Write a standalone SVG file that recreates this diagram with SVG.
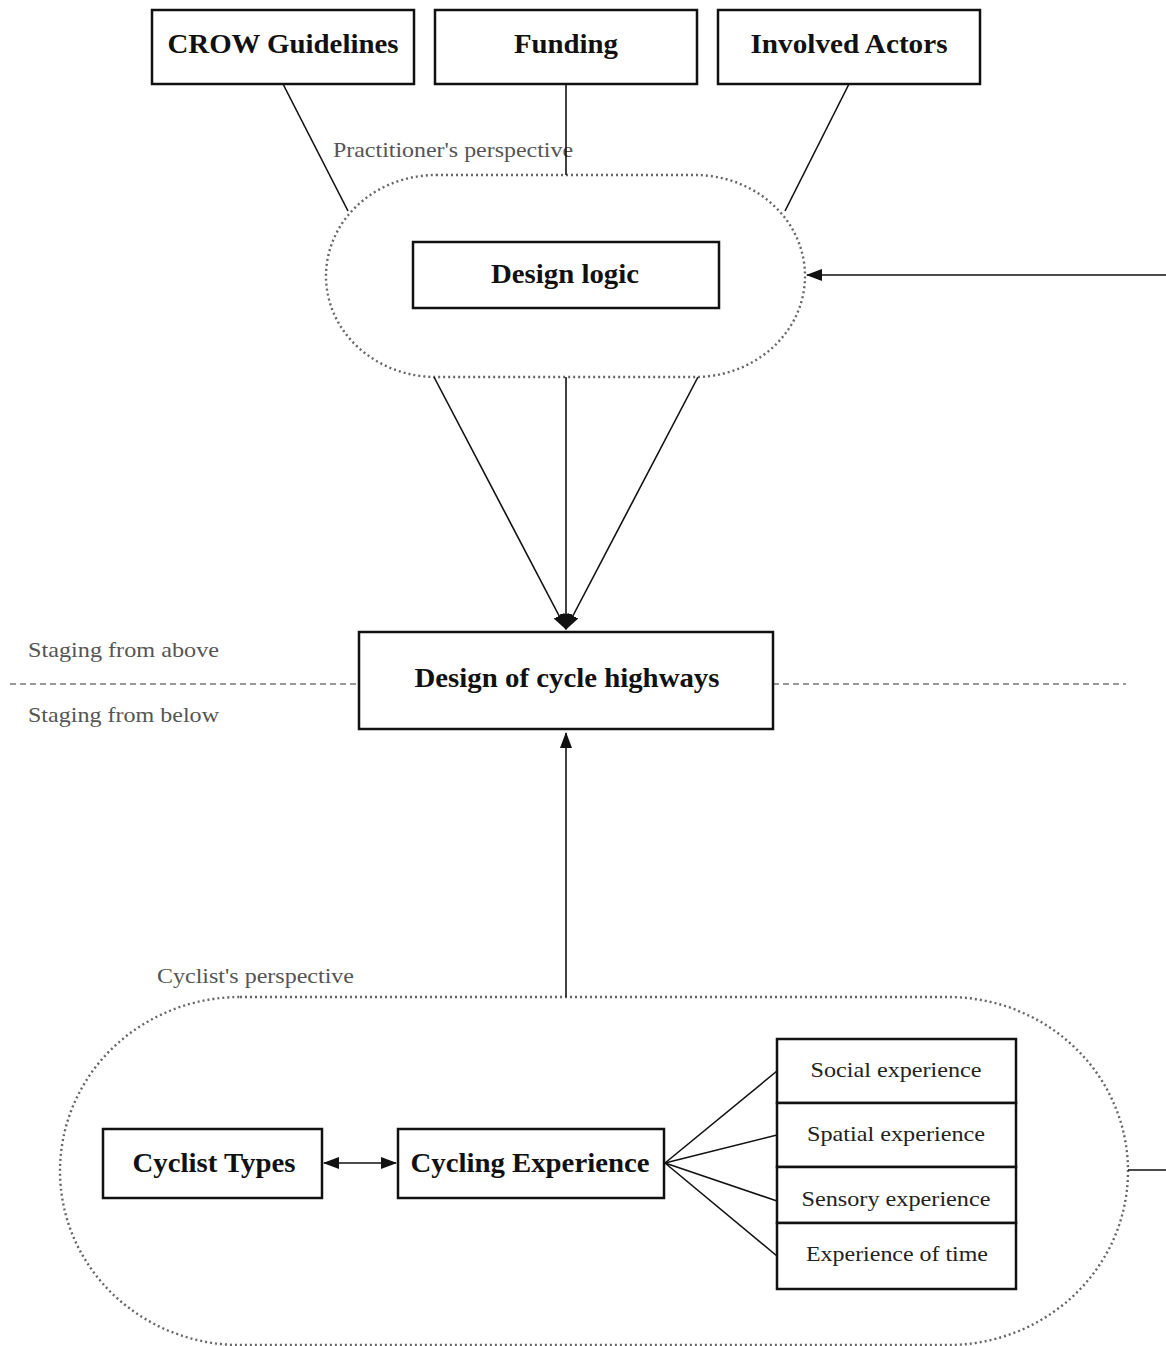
<svg xmlns="http://www.w3.org/2000/svg" width="1166" height="1346" viewBox="0 0 1166 1346">
<style>
.box{fill:#fff;stroke:#111;stroke-width:2.5}
.cell{fill:#fff;stroke:#111;stroke-width:2.5}
.t{font-family:"Liberation Serif","Times New Roman",serif;font-weight:bold;fill:#111;text-anchor:middle;font-size:27px}
.s{font-family:"Liberation Serif","Times New Roman",serif;fill:#222;text-anchor:middle;font-size:21px}
.lbl{font-family:"Liberation Serif","Times New Roman",serif;fill:#555;font-size:21px}
.con{fill:none;stroke:#111;stroke-width:1.6}
.dot{fill:none;stroke:#666;stroke-width:2.4;stroke-dasharray:2 3}
.dash{fill:none;stroke:#777;stroke-width:1.5;stroke-dasharray:6 4}
</style>
<defs>
<marker id="ah" markerWidth="16" markerHeight="12" refX="15" refY="6" orient="auto" markerUnits="userSpaceOnUse">
<path d="M0,0 L16,6 L0,12 Z" fill="#111"/>
</marker>
<marker id="ahs" markerWidth="16" markerHeight="12" refX="1" refY="6" orient="auto" markerUnits="userSpaceOnUse">
<path d="M16,0 L0,6 L16,12 Z" fill="#111"/>
</marker>
</defs>
<rect width="1166" height="1346" fill="#fff"/>

<g id="groups">
<rect id="practitioner-group" class="dot" x="326" y="175" width="479" height="202" rx="110" ry="101"/>
<rect id="cyclist-group" class="dot" x="60" y="997" width="1068" height="348" rx="180" ry="174"/>
<line class="dash" x1="10" y1="684" x2="359" y2="684"/>
<line class="dash" x1="773" y1="684" x2="1126" y2="684"/>
</g>

<g id="labels">
<text class="lbl" x="333" y="157" textLength="240" lengthAdjust="spacingAndGlyphs">Practitioner's perspective</text>
<text class="lbl" x="28" y="657" textLength="191" lengthAdjust="spacingAndGlyphs">Staging from above</text>
<text class="lbl" x="28" y="722" textLength="191" lengthAdjust="spacingAndGlyphs">Staging from below</text>
<text class="lbl" x="157" y="983" textLength="197" lengthAdjust="spacingAndGlyphs">Cyclist's perspective</text>
</g>

<g id="connectors">
<line class="con" x1="283" y1="84" x2="348" y2="211"/>
<line class="con" x1="566" y1="84" x2="566" y2="175"/>
<line class="con" x1="849" y1="84" x2="785" y2="211"/>
<line class="con" x1="434" y1="377" x2="566" y2="629" marker-end="url(#ah)"/>
<line class="con" x1="566" y1="377" x2="566" y2="629" marker-end="url(#ah)"/>
<line class="con" x1="698" y1="377" x2="566" y2="629" marker-end="url(#ah)"/>
<line class="con" x1="566" y1="997" x2="566" y2="733" marker-end="url(#ah)"/>
<path class="con" d="M1128,1170 H1167 V275 H807" marker-end="url(#ah)"/>
<line class="con" x1="324" y1="1163" x2="396" y2="1163" marker-start="url(#ahs)" marker-end="url(#ah)"/>
<line class="con" x1="665" y1="1163" x2="777" y2="1071"/>
<line class="con" x1="665" y1="1163" x2="777" y2="1135"/>
<line class="con" x1="665" y1="1163" x2="777" y2="1201"/>
<line class="con" x1="665" y1="1163" x2="777" y2="1256"/>
</g>

<g id="crow">
<rect class="box" x="152" y="10" width="262" height="74"/>
<text class="t" x="283" y="53" textLength="231" lengthAdjust="spacingAndGlyphs">CROW Guidelines</text>
</g>
<g id="funding">
<rect class="box" x="435" y="10" width="262" height="74"/>
<text class="t" x="566" y="53" textLength="104" lengthAdjust="spacingAndGlyphs">Funding</text>
</g>
<g id="actors">
<rect class="box" x="718" y="10" width="262" height="74"/>
<text class="t" x="849" y="53" textLength="197" lengthAdjust="spacingAndGlyphs">Involved Actors</text>
</g>
<g id="design-logic">
<rect class="box" x="413" y="242" width="306" height="66"/>
<text class="t" x="565" y="283" textLength="148" lengthAdjust="spacingAndGlyphs">Design logic</text>
</g>
<g id="design-highways">
<rect class="box" x="359" y="632" width="414" height="97"/>
<text class="t" x="567" y="687" textLength="305" lengthAdjust="spacingAndGlyphs">Design of cycle highways</text>
</g>
<g id="cyclist-types">
<rect class="box" x="103" y="1129" width="219" height="69"/>
<text class="t" x="214" y="1172" textLength="163" lengthAdjust="spacingAndGlyphs">Cyclist Types</text>
</g>
<g id="cycling-experience">
<rect class="box" x="398" y="1129" width="266" height="69"/>
<text class="t" x="530" y="1172" textLength="239" lengthAdjust="spacingAndGlyphs">Cycling Experience</text>
</g>
<g id="social">
<rect class="cell" x="777" y="1039" width="239" height="64"/>
<text class="s" x="896" y="1077" textLength="171" lengthAdjust="spacingAndGlyphs">Social experience</text>
</g>
<g id="spatial">
<rect class="cell" x="777" y="1103" width="239" height="64"/>
<text class="s" x="896" y="1141" textLength="178" lengthAdjust="spacingAndGlyphs">Spatial experience</text>
</g>
<g id="sensory">
<rect class="cell" x="777" y="1167" width="239" height="56"/>
<text class="s" x="896" y="1206" textLength="189" lengthAdjust="spacingAndGlyphs">Sensory experience</text>
</g>
<g id="time">
<rect class="cell" x="777" y="1223" width="239" height="66"/>
<text class="s" x="897" y="1261" textLength="182" lengthAdjust="spacingAndGlyphs">Experience of time</text>
</g>
</svg>
